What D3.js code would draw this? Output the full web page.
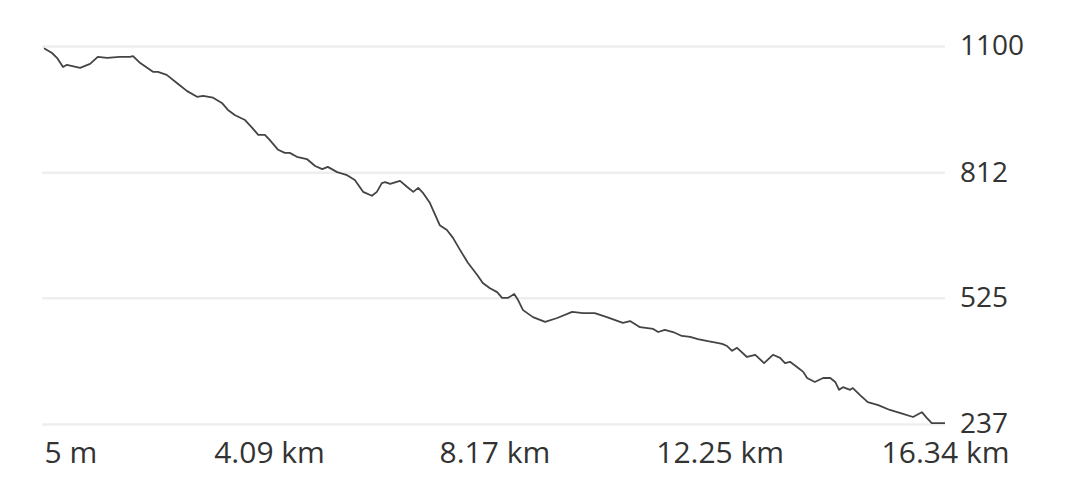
<!DOCTYPE html>
<html>
<head>
<meta charset="utf-8">
<script src="https://cdn.jsdelivr.net/npm/d3@7"></script>
<style>
  html, body { margin: 0; padding: 0; background: #fff; }
  svg { display: block; }
  text { font-family: "Open Sans", Lato, sans-serif; fill: #333; }
</style>
</head>
<body>
<svg id="chart" width="1080" height="504"></svg>
<script>
// Distance along the route (km)
const distanceKm = [
  0.005, 0.15, 0.24, 0.35, 0.42, 0.66, 0.84, 0.98, 1.15, 1.38, 1.56, 1.62, 1.75, 1.98, 2.07, 2.23,
  2.42, 2.60, 2.78, 2.89, 3.07, 3.23, 3.34, 3.47, 3.65, 3.78, 3.89, 4.01, 4.10, 4.25, 4.37, 4.46,
  4.59, 4.77, 4.92, 5.05, 5.15, 5.32, 5.50, 5.64, 5.79, 5.95, 6.04, 6.13, 6.19, 6.28, 6.46, 6.59,
  6.70, 6.79, 6.88, 7.00, 7.18, 7.31, 7.42, 7.55, 7.69, 7.86, 7.96, 8.09, 8.22, 8.31, 8.42, 8.53,
  8.60, 8.69, 8.87, 9.09, 9.31, 9.58, 9.78, 9.99, 10.21, 10.50, 10.63, 10.81, 11.05, 11.14, 11.26,
  11.41, 11.57, 11.72, 11.86, 12.04, 12.21, 12.30, 12.39, 12.48, 12.57, 12.75, 12.90, 13.06, 13.22,
  13.35, 13.44, 13.53, 13.68, 13.77, 13.84, 13.98, 14.13, 14.26, 14.35, 14.42, 14.49, 14.62, 14.67,
  14.80, 14.94, 15.13, 15.34, 15.58, 15.76, 15.92, 16.01, 16.10, 16.21, 16.34
];
// Elevation (m)
const elevationM = [
  1095, 1084, 1073, 1052, 1057, 1050, 1059, 1075, 1073, 1075, 1075, 1077, 1061, 1041, 1041, 1034,
  1015, 997, 984, 986, 982, 970, 954, 942, 931, 913, 897, 897, 885, 863, 856, 856,
  847, 842, 826, 819, 824, 812, 805, 794, 767, 758, 767, 787, 789, 785, 792, 778,
  767, 776, 764, 742, 691, 680, 662, 634, 605, 577, 559, 547, 538, 525, 525, 534,
  520, 497, 481, 470, 479, 493, 490, 490, 481, 468, 472, 458, 454, 447, 452,
  447, 438, 436, 431, 426, 422, 420, 415, 404, 411, 390, 395, 376, 395,
  388, 376, 379, 365, 356, 342, 333, 342, 342, 333, 315, 321, 315, 319,
  303, 287, 280, 269, 260, 253, 264, 251, 239, 239, 239
];
// Axis ticks
const yTickValues = [237, 525, 812, 1100];
const xTickValues = [0.005, 4.085, 8.17, 12.255, 16.34];
const xTickLabels = ["5 m", "4.09 km", "8.17 km", "12.25 km", "16.34 km"];

const svg = d3.select("#chart");
const plotLeft = 44, plotRight = 945, plotTop = 46, plotBottom = 424;

const x = d3.scaleLinear().domain([0.005, 16.34]).range([plotLeft, plotRight]);
const y = d3.scaleLinear().domain([237, 1100]).range([plotBottom, plotTop]);

// Y axis with gridlines
const yAxis = svg.append("g")
  .attr("transform", `translate(${plotRight},0)`)
  .call(d3.axisRight(y).tickValues(yTickValues).tickSize(-(plotRight - 42)).tickPadding(15).tickFormat(d3.format("d")));
yAxis.select(".domain").remove();
yAxis.selectAll(".tick line").attr("stroke", "#eeeeee").attr("stroke-width", 2.5);
yAxis.selectAll(".tick text").style("font-size", "28px").attr("fill", "#333");

// X axis labels
const xAxis = svg.append("g")
  .attr("transform", `translate(0,${plotBottom})`)
  .call(d3.axisBottom(x).tickValues(xTickValues).tickSize(0).tickPadding(18)
    .tickFormat((d, i) => xTickLabels[i]));
xAxis.select(".domain").remove();
xAxis.selectAll(".tick text").style("font-size", "30px").attr("fill", "#333")
  .attr("text-anchor", (d, i) => i === 0 ? "start" : "middle");

// Elevation line
const data = distanceKm.map((d, i) => ({ d, e: elevationM[i] }));
svg.append("path")
  .datum(data)
  .attr("fill", "none")
  .attr("stroke", "#444")
  .attr("stroke-width", 1.8)
  .attr("stroke-linejoin", "round")
  .attr("d", d3.line().x(p => x(p.d)).y(p => y(p.e)));
</script>
</body>
</html>
